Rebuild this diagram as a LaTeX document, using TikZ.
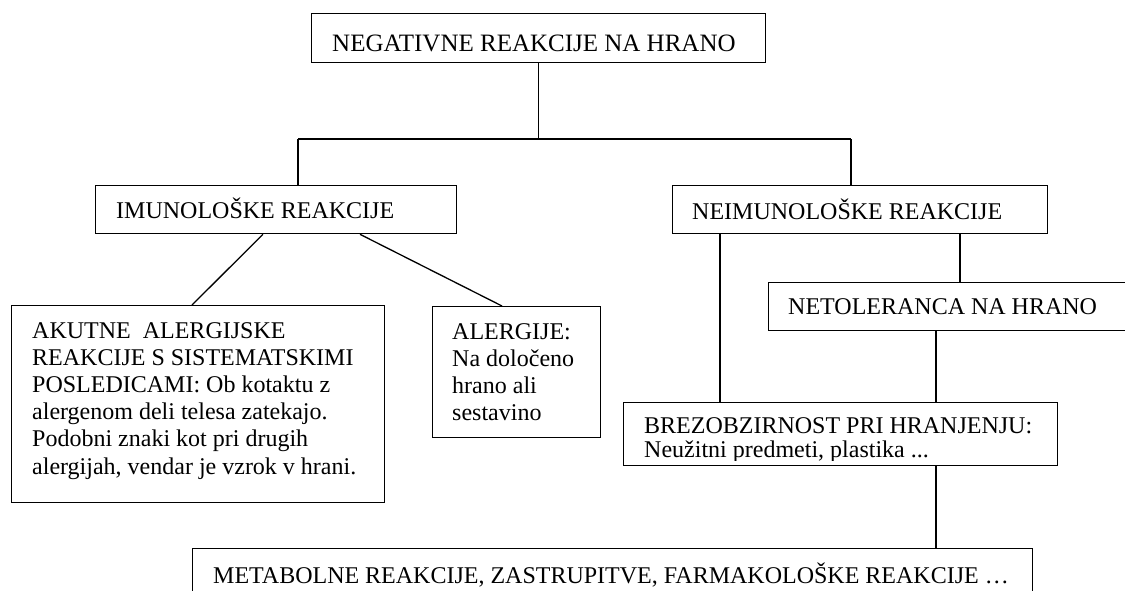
\documentclass[tikz,border=0pt]{standalone}
\usepackage{fontspec}
\setmainfont{Liberation Serif}
\begin{document}
\begin{tikzpicture}[x=1pt,y=-1pt,
  box/.style={draw, line width=1.3pt, inner sep=0pt, anchor=north west},
  txt/.style={inner sep=0pt, anchor=base west, font=\fontsize{24}{27.2}\selectfont},
  link/.style={line width=1.3pt}]
\clip (0,0) rectangle (1125,590);
\fill[white] (0,0) rectangle (1125,590);

% boxes
\node[box, minimum width=454pt, minimum height=49pt] (top) at (311,13) {};
\node[box, minimum width=361pt, minimum height=48pt] (imun) at (95,185) {};
\node[box, minimum width=375pt, minimum height=48pt] (neimun) at (672,185) {};
\node[box, minimum width=373pt, minimum height=197pt] (akut) at (11,305) {};
\node[box, minimum width=168pt, minimum height=131pt] (alerg) at (432,306) {};
\node[box, minimum width=372pt, minimum height=48pt] (netol) at (768,282) {};
\node[box, minimum width=434pt, minimum height=63pt] (brez) at (623,402) {};
\node[box, minimum width=840pt, minimum height=60pt] (metab) at (192,548) {};

% texts
\node[txt, font=\fontsize{25}{28}\selectfont] (ttop) at (332,51) {NEGATIVNE REAKCIJE NA HRANO};
\node[txt] (timun) at (116,218) {IMUNOLOŠKE REAKCIJE};
\node[txt] (tneimun) at (692,219) {NEIMUNOLOŠKE REAKCIJE};
\node[txt] (tnetol) at (788,314) {NETOLERANCA NA HRANO};
\node[txt] (takut) at (32,338) {\vtop{\hbox{AKUTNE\ \ ALERGIJSKE}\hbox{REAKCIJE S SISTEMATSKIMI}\hbox{POSLEDICAMI: Ob kotaktu z}\hbox{alergenom deli telesa zatekajo.}\hbox{Podobni znaki kot pri drugih}\hbox{alergijah, vendar je vzrok v hrani.}}};
\node[txt] (talerg) at (452,339) {\vtop{\hbox{ALERGIJE:}\hbox{Na določeno}\hbox{hrano ali}\hbox{sestavino}}};
\begin{scope}
\clip (623,402) rectangle (1057,460);
\node[txt, font=\fontsize{24}{24}\selectfont] (tbrez) at (644,433) {\vtop{\hbox{BREZOBZIRNOST PRI HRANJENJU:}\hbox{Neužitni predmeti, plastika ...}}};
\end{scope}
\node[txt] (tmetab) at (213,583) {METABOLNE REAKCIJE, ZASTRUPITVE, FARMAKOLOŠKE REAKCIJE …};

% connectors
\coordinate (jl) at (298,139);
\coordinate (jr) at (851,139);
\draw[link] (top.south) -- (top.south |- jl);
\draw[link] (jl) -- (jr);
\draw[link] (jl) -- (jl |- imun.north);
\draw[link] (jr) -- (jr |- neimun.north);
\draw[link] ([xshift=168pt]imun.south west) -- ([xshift=181pt]akut.north west);
\draw[link] ([xshift=265pt]imun.south west) -- ([xshift=70pt]alerg.north west);
\draw[link] ([xshift=48pt]neimun.south west) -- ([xshift=97pt]brez.north west);
\draw[link] ([xshift=288pt]neimun.south west) -- ([xshift=192pt]netol.north west);
\draw[link] ([xshift=168pt]netol.south west) -- ([xshift=313pt]brez.north west);
\draw[link] ([xshift=313pt]brez.south west) -- ([xshift=744pt]metab.north west);
\end{tikzpicture}
\end{document}
